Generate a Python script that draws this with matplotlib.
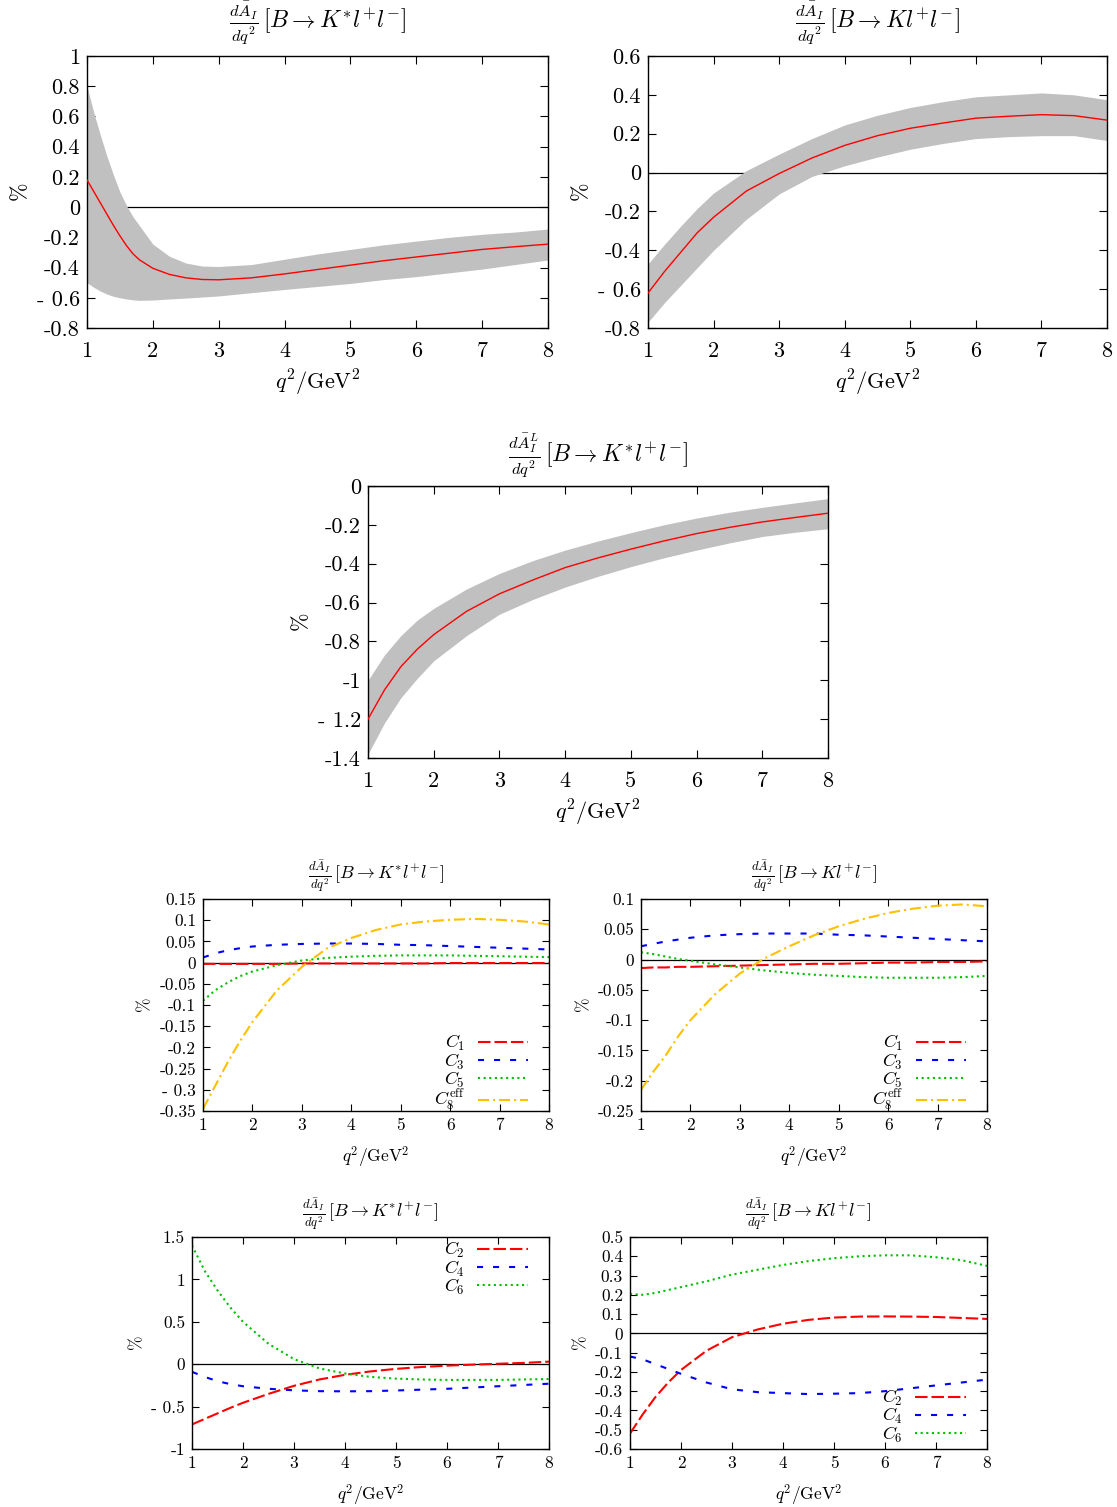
import matplotlib
matplotlib.use("Agg")
import matplotlib.pyplot as plt
import numpy as np

plt.rcParams['font.family'] = ['cmr10', 'DejaVu Serif']
plt.rcParams['mathtext.fontset'] = 'cm'
plt.rcParams['axes.unicode_minus'] = False
plt.rcParams['axes.linewidth'] = 1.0

# ---------------- data ----------------
# Panel 1: dA_I/dq^2, B -> K* l+ l-  (central + band)
q1 = [1.0, 1.1, 1.2, 1.3, 1.4, 1.5, 1.6, 1.7, 1.8, 2.0, 2.25, 2.5, 2.75, 3.0, 3.5, 4.0, 4.5, 5.0, 5.5, 6.0, 6.5, 7.0, 7.5, 8.0]
c1 = [0.18, 0.105, 0.03, -0.045, -0.12, -0.19, -0.255, -0.31, -0.35, -0.405, -0.445, -0.468, -0.479, -0.481, -0.468, -0.442, -0.413, -0.384, -0.355, -0.33, -0.305, -0.28, -0.262, -0.245]
u1 = [0.80, 0.63, 0.48, 0.34, 0.215, 0.10, 0.01, -0.065, -0.125, -0.245, -0.325, -0.37, -0.39, -0.393, -0.38, -0.345, -0.31, -0.28, -0.25, -0.225, -0.20, -0.18, -0.165, -0.145]
l1 = [-0.50, -0.53, -0.555, -0.575, -0.59, -0.60, -0.608, -0.614, -0.617, -0.615, -0.608, -0.602, -0.595, -0.588, -0.566, -0.545, -0.525, -0.505, -0.48, -0.46, -0.435, -0.41, -0.38, -0.35]

# Panel 2: dA_I/dq^2, B -> K l+ l-
q2 = [1.0, 1.25, 1.5, 1.75, 2.0, 2.5, 3.0, 3.5, 4.0, 4.5, 5.0, 5.5, 6.0, 6.5, 7.0, 7.5, 8.0]
c2 = [-0.62, -0.51, -0.41, -0.31, -0.23, -0.095, -0.005, 0.075, 0.14, 0.19, 0.228, 0.255, 0.28, 0.29, 0.298, 0.293, 0.27]
u2 = [-0.47, -0.37, -0.275, -0.185, -0.105, 0.01, 0.095, 0.175, 0.245, 0.295, 0.335, 0.365, 0.39, 0.40, 0.41, 0.40, 0.375]
l2 = [-0.77, -0.67, -0.58, -0.49, -0.40, -0.24, -0.11, -0.02, 0.035, 0.08, 0.12, 0.15, 0.175, 0.185, 0.19, 0.19, 0.165]

# Panel 3: dA_I^L/dq^2, B -> K* l+ l-
q3 = [1.0, 1.25, 1.5, 1.75, 2.0, 2.5, 3.0, 3.5, 4.0, 4.5, 5.0, 5.5, 6.0, 6.5, 7.0, 7.5, 8.0]
c3 = [-1.2, -1.05, -0.93, -0.84, -0.765, -0.645, -0.555, -0.485, -0.42, -0.37, -0.325, -0.283, -0.245, -0.213, -0.185, -0.162, -0.14]
u3 = [-1.0, -0.87, -0.77, -0.69, -0.63, -0.53, -0.45, -0.385, -0.33, -0.283, -0.24, -0.20, -0.165, -0.135, -0.11, -0.087, -0.065]
l3 = [-1.38, -1.22, -1.09, -0.99, -0.90, -0.77, -0.66, -0.585, -0.52, -0.465, -0.415, -0.37, -0.33, -0.293, -0.26, -0.238, -0.22]

# Decomposition panels share one q grid
qd = [1.0, 1.25, 1.5, 1.75, 2.0, 2.5, 3.0, 3.5, 4.0, 4.5, 5.0, 5.5, 6.0, 6.5, 7.0, 7.5, 8.0]

# Panel 4: K*, C1 C3 C5 C8eff
p4_C1 = [-0.003, -0.003, -0.003, -0.003, -0.003, -0.003, -0.002, -0.002, -0.002, -0.002, -0.002, -0.002, -0.001, -0.001, -0.001, -0.001, -0.001]
p4_C3 = [0.012, 0.022, 0.029, 0.034, 0.038, 0.042, 0.044, 0.045, 0.045, 0.044, 0.042, 0.041, 0.039, 0.037, 0.035, 0.033, 0.031]
p4_C5 = [-0.09, -0.065, -0.047, -0.032, -0.021, -0.006, 0.005, 0.011, 0.014, 0.016, 0.017, 0.017, 0.017, 0.016, 0.015, 0.014, 0.013]
p4_C8 = [-0.345, -0.29, -0.235, -0.185, -0.14, -0.065, -0.01, 0.033, 0.058, 0.077, 0.09, 0.097, 0.101, 0.103, 0.101, 0.097, 0.09]

# Panel 5: K, C1 C3 C5 C8eff
p5_C1 = [-0.014, -0.013, -0.013, -0.012, -0.012, -0.011, -0.010, -0.009, -0.008, -0.007, -0.007, -0.006, -0.005, -0.005, -0.004, -0.004, -0.003]
p5_C3 = [0.022, 0.026, 0.030, 0.033, 0.036, 0.040, 0.042, 0.043, 0.043, 0.043, 0.041, 0.040, 0.038, 0.036, 0.034, 0.032, 0.030]
p5_C5 = [0.012, 0.009, 0.005, 0.001, -0.002, -0.008, -0.013, -0.018, -0.022, -0.025, -0.027, -0.029, -0.030, -0.030, -0.030, -0.029, -0.027]
p5_C8 = [-0.215, -0.185, -0.158, -0.127, -0.10, -0.057, -0.023, 0.002, 0.022, 0.040, 0.055, 0.067, 0.077, 0.084, 0.089, 0.091, 0.088]

# Panel 6: K*, C2 C4 C6
p6_C2 = [-0.71, -0.645, -0.58, -0.515, -0.455, -0.35, -0.255, -0.18, -0.125, -0.085, -0.055, -0.033, -0.017, -0.005, 0.005, 0.015, 0.03]
p6_C4 = [-0.09, -0.15, -0.20, -0.235, -0.26, -0.29, -0.308, -0.318, -0.32, -0.318, -0.31, -0.30, -0.29, -0.275, -0.26, -0.245, -0.23]
p6_C6 = [1.40, 1.10, 0.87, 0.67, 0.50, 0.24, 0.06, -0.05, -0.11, -0.15, -0.17, -0.18, -0.185, -0.185, -0.185, -0.18, -0.175]

# Panel 7: K, C2 C4 C6
p7_C2 = [-0.52, -0.42, -0.33, -0.255, -0.19, -0.09, -0.02, 0.02, 0.05, 0.07, 0.082, 0.087, 0.088, 0.087, 0.085, 0.08, 0.075]
p7_C4 = [-0.12, -0.135, -0.16, -0.185, -0.21, -0.255, -0.29, -0.305, -0.31, -0.315, -0.313, -0.31, -0.30, -0.285, -0.27, -0.255, -0.24]
p7_C6 = [0.205, 0.20, 0.21, 0.225, 0.24, 0.27, 0.305, 0.33, 0.355, 0.375, 0.39, 0.40, 0.405, 0.405, 0.395, 0.38, 0.35]

xticks = [1, 2, 3, 4, 5, 6, 7, 8]
xticklabels = ['1', '2', '3', '4', '5', '6', '7', '8']

yt1 = [1, 0.8, 0.6, 0.4, 0.2, 0, -0.2, -0.4, -0.6, -0.8]
ytl1 = ['1', '0.8', '0.6', '0.4', '0.2', '0', '-0.2', '-0.4', '- 0.6', '-0.8']
yt2 = [0.6, 0.4, 0.2, 0, -0.2, -0.4, -0.6, -0.8]
ytl2 = ['0.6', '0.4', '0.2', '0', '-0.2', '-0.4', '- 0.6', '-0.8']
yt3 = [0, -0.2, -0.4, -0.6, -0.8, -1.0, -1.2, -1.4]
ytl3 = ['0', '-0.2', '-0.4', '-0.6', '-0.8', '-1', '- 1.2', '-1.4']
yt4 = [0.15, 0.1, 0.05, 0, -0.05, -0.1, -0.15, -0.2, -0.25, -0.3, -0.35]
ytl4 = ['0.15', '0.1', '0.05', '0', '-0.05', '-0.1', '-0.15', '-0.2', '-0.25', '- 0.3', '-0.35']
yt5 = [0.1, 0.05, 0, -0.05, -0.1, -0.15, -0.2, -0.25]
ytl5 = ['0.1', '0.05', '0', '-0.05', '-0.1', '-0.15', '-0.2', '-0.25']
yt6 = [1.5, 1.0, 0.5, 0, -0.5, -1.0]
ytl6 = ['1.5', '1', '0.5', '0', '- 0.5', '-1']
yt7 = [0.5, 0.4, 0.3, 0.2, 0.1, 0, -0.1, -0.2, -0.3, -0.4, -0.5, -0.6]
ytl7 = ['0.5', '0.4', '0.3', '0.2', '0.1', '0', '-0.1', '-0.2', '-0.3', '-0.4', '-0.5', '-0.6']

T_KS = r'$\frac{d\bar{A}_I}{dq^2}\,[B\rightarrow K^{*}l^{+}l^{-}]$'
T_K = r'$\frac{d\bar{A}_I}{dq^2}\,[B\rightarrow Kl^{+}l^{-}]$'
T_KSL = r'$\frac{d\bar{A}_I^L}{dq^2}\,[B\rightarrow K^{*}l^{+}l^{-}]$'
XLAB = r'$q^2/\mathrm{GeV}^2$'

# ---------------- figure ----------------
W, H = 1117, 1507
fig = plt.figure(figsize=(W / 100, H / 100), dpi=100)


def add_ax(x0, y0, x1, y1):
    return fig.add_axes([x0 / W, 1 - y1 / H, (x1 - x0) / W, (y1 - y0) / H])


def style(ax, ylim, yt, ytl, title, fs, tfs, ticklen, xpad, tpad, xlpad):
    ax.set_xlim(1, 8)
    ax.set_ylim(*ylim)
    ax.set_xticks(xticks)
    ax.set_xticklabels(xticklabels)
    ax.set_yticks(yt)
    ax.set_yticklabels(ytl)
    ax.tick_params(direction='in', top=True, right=True, length=ticklen,
                   width=0.8, labelsize=fs)
    ax.tick_params(axis='y', pad=5)
    ax.tick_params(axis='x', pad=xpad)
    ax.set_title(title, fontsize=tfs, pad=tpad)
    ax.set_xlabel(XLAB, fontsize=fs, labelpad=xlpad)
    ax.set_ylabel(r'$\%$', fontsize=fs, labelpad=4)
    ax.axhline(0, color='black', lw=0.9, zorder=1)


def band_panel(ax, q, c, u, l):
    ax.fill_between(q, l, u, color='#c0c0c0', lw=0, zorder=2)
    ax.plot(q, c, color='#ff0000', lw=1.0, zorder=3)


BIG = 16
SMALL = 12.5

ax1 = add_ax(87, 56, 548, 328)
style(ax1, (-0.8, 1.0), yt1, ytl1, T_KS, BIG, 17, 6, 10, 20, 5)
band_panel(ax1, q1, c1, u1, l1)

ax2 = add_ax(648, 56, 1107, 328)
style(ax2, (-0.8, 0.6), yt2, ytl2, T_K, BIG, 17, 6, 10, 20, 5)
band_panel(ax2, q2, c2, u2, l2)

ax3 = add_ax(368, 486, 828, 758)
style(ax3, (-1.4, 0.0), yt3, ytl3, T_KSL, BIG, 17, 6, 10, 18, 5)
band_panel(ax3, q3, c3, u3, l3)

LW = 1.5
RED = dict(color='#ff0000', lw=LW, dashes=(6.0, 1.9))
BLUE = dict(color='#0000ff', lw=LW, dashes=(2.9, 4.8))
GREEN = dict(color='#00c000', lw=LW, dashes=(1.0, 1.7))
GOLD = dict(color='#ffc000', lw=LW, dashes=(5.3, 1.9, 1.0, 1.9))


def legend(ax, loc, anchor):
    ax.legend(loc=loc, bbox_to_anchor=anchor, frameon=False, markerfirst=False,
              fontsize=13, handlelength=2.8, handletextpad=0.7,
              labelspacing=-0.1, borderaxespad=0.0, borderpad=0.0)


ax4 = add_ax(203, 899, 549, 1111)
style(ax4, (-0.35, 0.15), yt4, ytl4, T_KS, SMALL, 13, 5, 5, 14, 8)
ax4.plot(qd, p4_C1, label=r'$C_1$', **RED)
ax4.plot(qd, p4_C3, label=r'$C_3$', **BLUE)
ax4.plot(qd, p4_C5, label=r'$C_5$', **GREEN)
ax4.plot(qd, p4_C8, label=r'$C_8^{\mathrm{eff}}$', **GOLD)
legend(ax4, 'lower right', (0.94, -0.01))

ax5 = add_ax(641, 899, 987, 1111)
style(ax5, (-0.25, 0.1), yt5, ytl5, T_K, SMALL, 13, 5, 5, 14, 8)
ax5.plot(qd, p5_C1, label=r'$C_1$', **RED)
ax5.plot(qd, p5_C3, label=r'$C_3$', **BLUE)
ax5.plot(qd, p5_C5, label=r'$C_5$', **GREEN)
ax5.plot(qd, p5_C8, label=r'$C_8^{\mathrm{eff}}$', **GOLD)
legend(ax5, 'lower right', (0.94, -0.01))

ax6 = add_ax(192, 1237, 549, 1449)
style(ax6, (-1.0, 1.5), yt6, ytl6, T_KS, SMALL, 13, 5, 5, 14, 8)
ax6.plot(qd, p6_C2, label=r'$C_2$', **RED)
ax6.plot(qd, p6_C4, label=r'$C_4$', **BLUE)
ax6.plot(qd, p6_C6, label=r'$C_6$', **GREEN)
legend(ax6, 'upper right', (0.94, 0.985))

ax7 = add_ax(630, 1237, 987, 1449)
style(ax7, (-0.6, 0.5), yt7, ytl7, T_K, SMALL, 13, 5, 5, 14, 8)
ax7.plot(qd, p7_C2, label=r'$C_2$', **RED)
ax7.plot(qd, p7_C4, label=r'$C_4$', **BLUE)
ax7.plot(qd, p7_C6, label=r'$C_6$', **GREEN)
legend(ax7, 'lower right', (0.94, 0.02))

fig.savefig('out.png', dpi=100)
